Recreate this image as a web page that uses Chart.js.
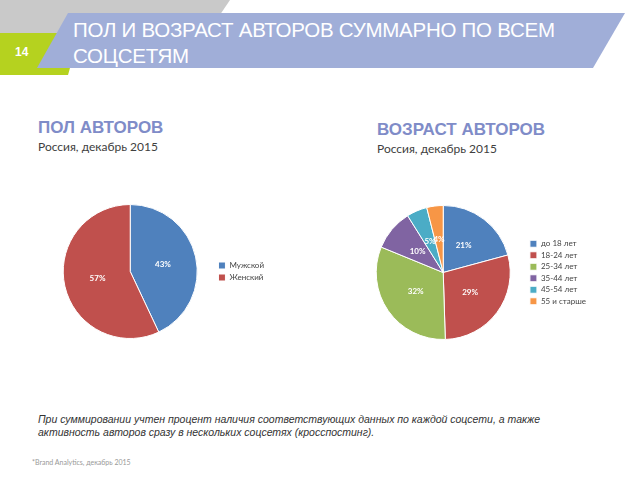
<!DOCTYPE html>
<html>
<head>
<meta charset="utf-8">
<script src="https://cdn.jsdelivr.net/npm/chart.js@4"></script>
<style>
    body { margin: 0; width: 640px; height: 480px; background: #fff; position: relative; overflow: hidden; font-family: "Liberation Sans", Arial, sans-serif; }
    .abs { position: absolute; }
    .gray { left: 0; top: 0; width: 230px; height: 34px; background: #c9c9c9; clip-path: polygon(0 0, 100% 0, 90% 100%, 0 100%); }
    .green { left: 0; top: 33px; width: 80px; height: 42px; background: #b5d21f; clip-path: polygon(0 0, 100% 0, 68px 100%, 0 100%); }
    .banner { left: 37px; top: 13px; width: 588px; height: 55px; background: #a0aed8; clip-path: polygon(31px 0, 588px 0, 556px 55px, 0 55px); }
    .num { left: 15px; top: 45px; color: #fff; font-size: 12px; font-weight: bold; }
    .title { left: 73px; top: 17px; color: #fff; font-size: 20.5px; line-height: 26px; letter-spacing: -0.25px; }
    .head { color: #7f8cc8; font-size: 17px; font-weight: bold; }
    .sub { color: #404040; font-size: 12px; font-family: Lato, sans-serif; }
    .note { left: 38px; top: 413px; color: #333; font-size: 10.5px; font-style: italic; line-height: 13px; font-family: "Liberation Sans", sans-serif; }
    .foot { left: 32px; top: 458px; color: #999; font-size: 7px; font-family: Lato, sans-serif; }
</style>
</head>
<body>
<div class="abs gray"></div>
<div class="abs green"></div>
<div class="abs banner"></div>
<div class="abs num">14</div>
<div class="abs title">ПОЛ И ВОЗРАСТ АВТОРОВ СУММАРНО ПО ВСЕМ<br>СОЦСЕТЯМ</div>

<div class="abs head" style="left:38px; top:118px;">ПОЛ АВТОРОВ</div>
<div class="abs sub" style="left:38px; top:139px;">Россия, декабрь 2015</div>
<div class="abs head" style="left:377px; top:120px;">ВОЗРАСТ АВТОРОВ</div>
<div class="abs sub" style="left:377px; top:141px;">Россия, декабрь 2015</div>

<div class="abs" style="left:46px; top:204px; width:228px; height:135px;"><canvas id="genderChart"></canvas></div>
<div class="abs" style="left:360px; top:205px; width:236px; height:135px;"><canvas id="ageChart"></canvas></div>

<div class="abs note">При суммировании учтен процент наличия соответствующих данных по каждой соцсети, а также<br>активность авторов сразу в нескольких соцсетях (кросспостинг).</div>
<div class="abs foot">*Brand Analytics, декабрь 2015</div>

<script>
const genderLabels = ['Мужской', 'Женский'];
const genderValues = [43, 57];
const genderColors = ['#4f81bd', '#c0504d'];

const ageLabels = ['до 18 лет', '18-24 лет', '25-34 лет', '35-44 лет', '45-54 лет', '55 и старше'];
const ageValues = [21, 29, 32, 10, 5, 4];
const ageColors = ['#4f81bd', '#c0504d', '#9bbb59', '#8064a2', '#4bacc6', '#f79646'];

// draws "NN%" in the middle of each slice
const pctLabels = {
    id: 'pctLabels',
    afterDatasetsDraw(chart) {
        const ctx = chart.ctx;
        const ds = chart.data.datasets[0];
        ctx.save();
        ctx.fillStyle = '#fff';
        ctx.font = 'bold 8px Lato, sans-serif';
        ctx.textAlign = 'center';
        ctx.textBaseline = 'middle';
        chart.getDatasetMeta(0).data.forEach(function(arc, i) {
            const p = arc.tooltipPosition();
            ctx.fillText(ds.data[i] + '%', p.x, p.y);
        });
        ctx.restore();
    }
};

function makePie(id, labels, values, colors, rowGap) {
    new Chart(document.getElementById(id), {
        type: 'pie',
        data: {
            labels: labels,
            datasets: [{
                data: values,
                backgroundColor: colors,
                borderColor: '#fff',
                borderWidth: 1
            }]
        },
        options: {
            responsive: true,
            maintainAspectRatio: false,
            animation: false,
            layout: { padding: 0 },
            plugins: {
                tooltip: { enabled: false },
                legend: {
                    position: 'right',
                    labels: {
                        boxWidth: 7,
                        boxHeight: 7,
                        padding: rowGap,
                        color: '#444',
                        font: { size: 8, family: 'Lato, sans-serif' }
                    }
                }
            }
        },
        plugins: [pctLabels]
    });
}

document.addEventListener('DOMContentLoaded', function() {
    makePie('genderChart', genderLabels, genderValues, genderColors, 4);
    makePie('ageChart', ageLabels, ageValues, ageColors, 3.5);
});
</script>
</body>
</html>
